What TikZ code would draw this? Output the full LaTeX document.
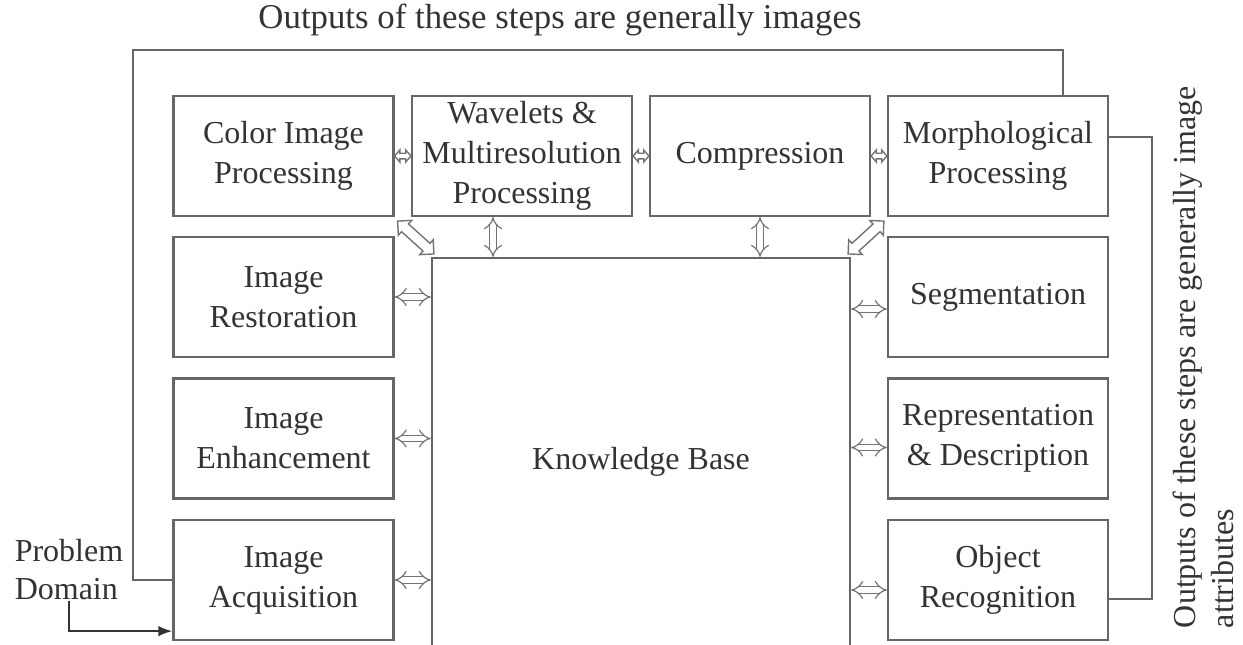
\documentclass[tikz,border=0pt]{standalone}
\usepackage{fontspec}
\setmainfont{Liberation Serif}
\usetikzlibrary{arrows.meta,calc}
\tikzset{
  box/.style={draw=black!60, line width=1.1pt, minimum width=110pt, minimum height=60pt, align=center, inner sep=0pt, text=black!80, font=\fontsize{16}{20}\selectfont},
  dbl/.style={draw=black!55, double=white, double distance=2.6pt, line width=0.6pt, {Implies}-{Implies}},
  hollow/.style n args={3}{draw=black!55, line width=0.7pt, line join=miter,
    to path={
      (\tikztostart)
      -- ($(\tikztostart)!#1!(\tikztotarget)!#2!90:(\tikztotarget)$)
      -- ($(\tikztostart)!#1!(\tikztotarget)!#3!90:(\tikztotarget)$)
      -- ($(\tikztotarget)!#1!(\tikztostart)!#3!-90:(\tikztostart)$)
      -- ($(\tikztotarget)!#1!(\tikztostart)!#2!-90:(\tikztostart)$)
      -- (\tikztotarget)
      -- ($(\tikztotarget)!#1!(\tikztostart)!#2!90:(\tikztostart)$)
      -- ($(\tikztotarget)!#1!(\tikztostart)!#3!90:(\tikztostart)$)
      -- ($(\tikztostart)!#1!(\tikztotarget)!#3!-90:(\tikztotarget)$)
      -- ($(\tikztostart)!#1!(\tikztotarget)!#2!-90:(\tikztotarget)$)
      -- cycle}},
  small/.style={hollow={2.6pt}{3pt}{1.4pt}},
  big/.style={hollow={5pt}{5pt}{2.6pt}},
  fb/.style={draw=black!60, line width=1.1pt},
  lbl/.style={text=black!80, font=\fontsize{16}{19}\selectfont, inner sep=0pt}
}
\begin{document}
\begin{tikzpicture}[x=0.5pt,y=-0.5pt]
\useasboundingbox (0,0) rectangle (1243,644);
% top row
\node[box] (cip) at (283.5,156) {Color Image\\Processing};
\node[box] (wav) at (522,156) {Wavelets \&\\Multiresolution\\Processing};
\node[box] (comp) at (760,156) {Compression};
\node[box] (morph) at (998,156) {Morphological\\Processing};
% left column
\node[box] (rest) at (283.5,297) {Image\\Restoration};
\node[box] (enh) at (283.5,438.5) {Image\\Enhancement};
\node[box] (acq) at (283.5,580) {Image\\Acquisition};
% right column
\node[box] (seg) at (998,297) {Segmentation};
\node[box] (rep) at (998,438.5) {Representation\\\& Description};
\node[box] (obj) at (998,580) {Object\\Recognition};
% knowledge base
\node[box, minimum width=209pt, minimum height=194pt] (kb) at (641,452) {};
\node[lbl] (kbt) at (641,462) {Knowledge Base};
% helper coordinates
\coordinate (wavA) at ($(wav.south)+(-29,0)$);
\coordinate (segA) at ($(seg.west)+(0,12)$);
\coordinate (repA) at ($(rep.west)+(0,9)$);
\coordinate (objA) at ($(obj.west)+(0,10)$);
\coordinate (cipD) at ($(cip.south east)+(3,4)$);
\coordinate (kbL) at ($(kb.north west)+(3,-3)$);
\coordinate (morD) at ($(morph.south west)+(-3,4)$);
\coordinate (kbR) at ($(kb.north east)+(-3,-3)$);
% horizontal arrows top row
\draw[small] (cip.east) to (wav.west);
\draw[small] (wav.east) to (comp.west);
\draw[small] (comp.east) to (morph.west);
% vertical arrows
\draw[dbl] (wavA) -- (wavA |- kb.north);
\draw[dbl] (comp.south) -- (comp.south |- kb.north);
% diagonal arrows
\draw[big] (cipD) to (kbL);
\draw[big] (morD) to (kbR);
% left arrows
\draw[dbl] (rest.east) -- (rest.east -| kb.west);
\draw[dbl] (enh.east) -- (enh.east -| kb.west);
\draw[dbl] (acq.east) -- (acq.east -| kb.west);
% right arrows
\draw[dbl] (segA -| kb.east) -- (segA);
\draw[dbl] (repA -| kb.east) -- (repA);
\draw[dbl] (objA -| kb.east) -- (objA);
% top feedback loop
\coordinate (tl) at (133,50);
\coordinate (tr) at (1063,50);
\draw[fb] (acq.west) -- (acq.west -| tl) -- (tl) -- (tr) -- (tr |- morph.north);
\node[lbl, font=\fontsize{17.4}{20}\selectfont] (toptext) at (560,20) {Outputs of these steps are generally images};
% right feedback loop
\coordinate (rr) at (1152,137);
\coordinate (rb) at (1152,599);
\draw[fb] ($(morph.east)+(0,-19)$) -- (rr) -- (rb) -- (rb -| obj.east);
\node[lbl, rotate=90, align=left] (sidetext) at (1203,357) {Outputs of these steps are generally image\\attributes};
% problem domain
\node[lbl, align=left] (pdom) at (69,570) {Problem\\Domain};
\draw[draw=black!80, line width=1pt, -{Latex[length=7pt]}] (pdom.south) |- ($(acq.south west)+(0,-10)$);
\end{tikzpicture}
\end{document}
